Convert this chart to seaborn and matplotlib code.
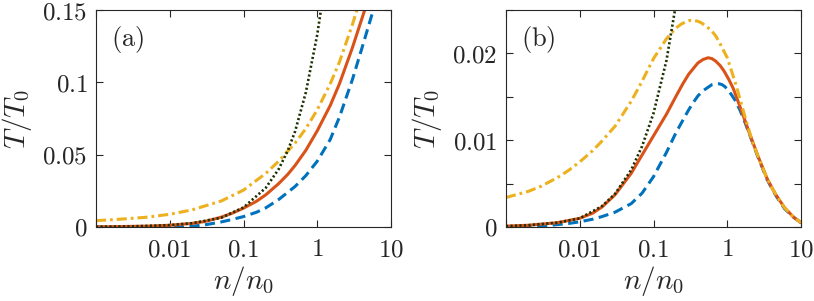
import numpy as np
import pandas as pd
import matplotlib
matplotlib.use('Agg')
import matplotlib.pyplot as plt
import seaborn as sns

# values (x = n/n0, y = T/T0)
# panel (a)
a_blue_x = [0.001, 0.01, 0.015, 0.02, 0.03, 0.05, 0.07, 0.1, 0.15, 0.2, 0.3, 0.5, 0.7, 1.0, 1.5, 2.0,
            3.0, 4.0, 5.6, 7.0]
a_blue_y = [0.0, 0.0, 0.0002, 0.0006, 0.0015, 0.0035, 0.0052, 0.0072, 0.0102, 0.0132, 0.0190, 0.0280,
            0.0355, 0.0455, 0.0605, 0.0760, 0.1020, 0.1230, 0.1480, 0.1700]
a_orange_x = [0.001, 0.002, 0.005, 0.01, 0.02, 0.03, 0.05, 0.07, 0.1, 0.15, 0.2, 0.3, 0.4, 0.5, 0.7,
              1.0, 1.5, 2.0, 3.0, 4.4, 6.0]
a_orange_y = [0.0001, 0.0003, 0.0006, 0.0012, 0.0025, 0.0038, 0.0068, 0.0095, 0.0130, 0.0178, 0.0222,
              0.0300, 0.0365, 0.0425, 0.0530, 0.0665, 0.0840, 0.0990, 0.1240, 0.1500, 0.1760]
a_yellow_x = [0.001, 0.002, 0.005, 0.01, 0.02, 0.05, 0.1, 0.2, 0.3, 0.5, 0.7, 1.0, 1.5, 2.0, 3.0, 3.5,
              5.0]
a_yellow_y = [0.0044, 0.0053, 0.0068, 0.0088, 0.0118, 0.0180, 0.0255, 0.0370, 0.0455, 0.0580, 0.0680,
              0.0810, 0.0990, 0.1140, 0.1400, 0.1510, 0.1800]
a_dot_x = [0.001, 0.003, 0.01, 0.02, 0.05, 0.1, 0.2, 0.3, 0.4, 0.5, 0.7, 1.0, 1.2]
a_dot_y = [0.00012, 0.0004, 0.0013, 0.0026, 0.0064, 0.0135, 0.027, 0.040, 0.053, 0.066, 0.093, 0.133,
           0.160]

# panel (b)
b_blue_x = [0.001, 0.002, 0.004, 0.007, 0.01, 0.015, 0.02, 0.03, 0.05, 0.07, 0.1, 0.15, 0.2, 0.25, 0.3,
            0.35, 0.4, 0.47, 0.55, 0.62, 0.7, 0.78, 0.85, 0.92, 1.0, 1.15, 1.3, 1.5, 1.75, 2.0, 2.6,
            3.5, 4.5, 6.0, 8.0, 10.0]
b_blue_y = [0.0, 0.0, 0.0002, 0.0004, 0.0006, 0.0009, 0.0012, 0.0017, 0.0027, 0.0039, 0.0058, 0.0086,
            0.0108, 0.0123, 0.0135, 0.0144, 0.0151, 0.0157, 0.0161, 0.0164, 0.0165, 0.0165, 0.0164,
            0.0162, 0.0159, 0.0152, 0.0145, 0.0134, 0.0120, 0.0107, 0.0081, 0.0054, 0.0037, 0.0021,
            0.0011, 0.0005]
b_orange_x = [0.001, 0.002, 0.005, 0.01, 0.015, 0.02, 0.03, 0.05, 0.07, 0.1, 0.15, 0.2, 0.25, 0.3,
              0.35, 0.4, 0.47, 0.55, 0.62, 0.7, 0.8, 0.9, 1.05, 1.2, 1.5, 1.75, 2.0, 2.6, 3.5, 4.5,
              6.0, 8.0, 10.0]
b_orange_y = [0.0001, 0.0002, 0.0005, 0.0010, 0.0016, 0.0023, 0.0037, 0.0062, 0.0083, 0.0105, 0.0130,
              0.0150, 0.0165, 0.0176, 0.0183, 0.0189, 0.0193, 0.0195, 0.0194, 0.0191, 0.0186, 0.0180,
              0.0170, 0.0160, 0.0138, 0.0122, 0.0108, 0.0082, 0.0055, 0.0038, 0.0022, 0.0011, 0.0005]
b_yellow_x = [0.001, 0.002, 0.003, 0.005, 0.007, 0.01, 0.015, 0.02, 0.03, 0.05, 0.07, 0.1, 0.15, 0.2,
              0.24, 0.27, 0.31, 0.35, 0.4, 0.45, 0.52, 0.6, 0.7, 0.8, 1.0, 1.3, 1.7, 2.2, 2.8, 3.5,
              4.5, 6.0, 8.0, 10.0]
b_yellow_y = [0.0034, 0.0041, 0.0047, 0.0057, 0.0065, 0.0075, 0.0088, 0.0099, 0.0116, 0.0145, 0.0168,
              0.0194, 0.0217, 0.0229, 0.0234, 0.0236, 0.0238, 0.0238, 0.0237, 0.0235, 0.0231, 0.0227,
              0.0220, 0.0211, 0.0195, 0.0165, 0.0130, 0.0098, 0.0075, 0.0055, 0.0038, 0.0022, 0.0011,
              0.0005]
b_dot_x = [0.001, 0.002, 0.005, 0.01, 0.02, 0.03, 0.05, 0.07, 0.1, 0.15, 0.2, 0.25]
b_dot_y = [0.0001, 0.0002, 0.0005, 0.0010, 0.0024, 0.0038, 0.0066, 0.0093, 0.0131, 0.0192, 0.0255,
           0.0320]

x_ticks = [0.001, 0.01, 0.1, 1, 10]
x_labels = ['', '0.01', '0.1', '1', '10']
a_y_ticks = [0, 0.05, 0.1, 0.15]
a_y_labels = ['0', '0.05', '0.1', '0.15']
b_y_ticks = [0, 0.005, 0.01, 0.015, 0.02, 0.025]
b_y_labels = ['0', '', '0.01', '', '0.02', '']

sns.set_style('ticks')
plt.rcParams['mathtext.fontset'] = 'cm'
plt.rcParams['font.family'] = ['DejaVu Serif']

edge = '#262626'
colors = {'blue': '#0072BD', 'orange': '#D95319', 'yellow': '#EDB120', 'dot': '#1c3000'}
styles = {'blue': dict(linestyle=(0, (3.3, 1.8)), linewidth=2.2),
          'orange': dict(linestyle='-', linewidth=2.2),
          'yellow': dict(linestyle=(0, (3.3, 1.3, 0.9, 1.3)), linewidth=2.2),
          'dot': dict(linestyle=(0, (0.8, 0.9)), linewidth=1.9)}

fig = plt.figure(figsize=(8.14, 3.01), dpi=100)
ax_a = fig.add_axes([96 / 814, 74 / 301, 295 / 814, 217 / 301])
ax_b = fig.add_axes([506 / 814, 74 / 301, 295 / 814, 217 / 301])

panels = [
    (ax_a, {'blue': (a_blue_x, a_blue_y), 'orange': (a_orange_x, a_orange_y),
            'yellow': (a_yellow_x, a_yellow_y), 'dot': (a_dot_x, a_dot_y)},
     (0, 0.15), a_y_ticks, a_y_labels, '(a)'),
    (ax_b, {'blue': (b_blue_x, b_blue_y), 'orange': (b_orange_x, b_orange_y),
            'yellow': (b_yellow_x, b_yellow_y), 'dot': (b_dot_x, b_dot_y)},
     (0, 0.025), b_y_ticks, b_y_labels, '(b)'),
]

for ax, series, ylim, yt, ytl, tag in panels:
    for name in ['blue', 'orange', 'yellow', 'dot']:
        xs, ys = series[name]
        df = pd.DataFrame({'n': xs, 'T': ys})
        sns.lineplot(data=df, x='n', y='T', ax=ax, color=colors[name],
                     sort=False, estimator=None, **styles[name])
    ax.set_xscale('log')
    ax.set_xlim(0.001, 10)
    ax.set_ylim(*ylim)
    ax.set_xticks(x_ticks)
    ax.set_xticklabels(['$%s$' % s if s else '' for s in x_labels])
    ax.set_yticks(yt)
    ax.set_yticklabels(['$%s$' % s if s else '' for s in ytl])
    ax.tick_params(which='both', direction='in', top=True, right=True, colors=edge,
                   labelsize=18, width=0.8)
    ax.tick_params(which='major', length=5, pad=8)
    ax.tick_params(which='minor', length=2.8)
    ax.tick_params(axis='y', pad=6)
    for sp in ax.spines.values():
        sp.set_color(edge)
        sp.set_linewidth(0.8)
        sp.set_visible(True)
    ax.set_xlabel('$n/n_0$', fontsize=21, color=edge, labelpad=2)
    ax.set_ylabel('$T/T_0$', fontsize=21, color=edge, labelpad=6)
    ax.text(0.05, 0.865, r'$\mathrm{%s}$' % tag, transform=ax.transAxes, fontsize=19,
            va='center', ha='left', color=edge)

fig.savefig('out.png', dpi=100)
